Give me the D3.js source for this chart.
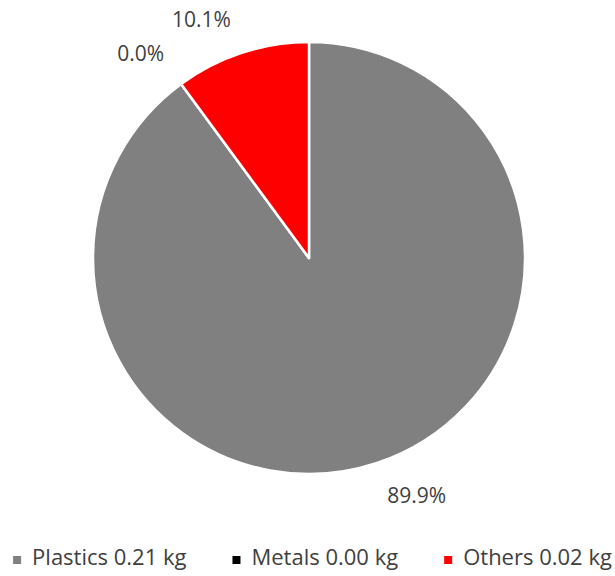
<!DOCTYPE html>
<html>
<head>
<meta charset="utf-8">
<script src="https://cdn.jsdelivr.net/npm/d3@7"></script>
<style>
  body { margin: 0; background: #fff; }
  text { font-family: "Open Sans", "Noto Sans", sans-serif; fill: #404040; }
</style>
</head>
<body>
<div id="pie"></div>
<script>
// data
var categories = ["Plastics", "Metals", "Others"];
var weights = [0.214, 0.0, 0.024];   // kg
var colors = ["#808080", "#000000", "#ff0000"];

var width = 615, height = 576;
var cx = 309, cy = 258, radius = 216;

var svg = d3.select("#pie")
  .append("svg")
    .attr("width", width)
    .attr("height", height);

var data = categories.map(function (c, i) {
  return { name: c, value: weights[i], color: colors[i] };
});
var total = d3.sum(weights);

var pie = d3.pie()
  .sort(null)
  .value(function (d) { return d.value; });

var arc = d3.arc()
  .innerRadius(0)
  .outerRadius(radius);

var g = svg.append("g")
  .attr("transform", "translate(" + cx + "," + cy + ")");

var arcs = pie(data);

g.selectAll("path")
  .data(arcs)
  .enter()
  .append("path")
    .attr("d", arc)
    .attr("fill", function (d) { return d.data.color; })
    .attr("stroke", "#fff")
    .attr("stroke-width", 2.5)
    .attr("stroke-linejoin", "round");

// outside-end labels, box corner touching a point just outside the rim
var labelR = radius + 22;
g.selectAll(".lbl")
  .data(arcs)
  .enter()
  .append("text")
    .attr("class", "lbl")
    .attr("font-size", 21)
    .attr("text-anchor", "middle")
    .text(function (d) { return (d.data.value / total * 100).toFixed(1) + "%"; })
    .each(function (d) {
      var a = (d.startAngle + d.endAngle) / 2;
      var px = Math.sin(a) * labelR, py = -Math.cos(a) * labelR;
      var w = this.getComputedTextLength(), h = 24;
      var sx = Math.sin(a) >= 0 ? 1 : -1;
      var sy = -Math.cos(a) >= 0 ? 1 : -1;
      d3.select(this)
        .attr("x", px + sx * w / 2 + sx * 4)
        .attr("y", py + sy * h / 2 + 7);
    });

// legend
var legend = svg.append("g");
var items = legend.selectAll("g")
  .data(data)
  .enter()
  .append("g");

items.append("rect")
  .attr("width", 8)
  .attr("height", 8)
  .attr("y", -9)
  .attr("fill", function (d) { return d.color; });

items.append("text")
  .attr("x", 19)
  .attr("font-size", 22)
  .text(function (d) { return d.name + " " + d.value.toFixed(2) + " kg"; });

var gap = 46;
var xPos = 0;
items.each(function () {
  d3.select(this).attr("transform", "translate(" + xPos + ",0)");
  var tw = d3.select(this).select("text").node().getComputedTextLength();
  xPos += 19 + tw + gap;
});
var legendW = xPos - gap;
legend.attr("transform", "translate(" + ((width - legendW) / 2 + 5) + ",565)");
</script>
</body>
</html>
